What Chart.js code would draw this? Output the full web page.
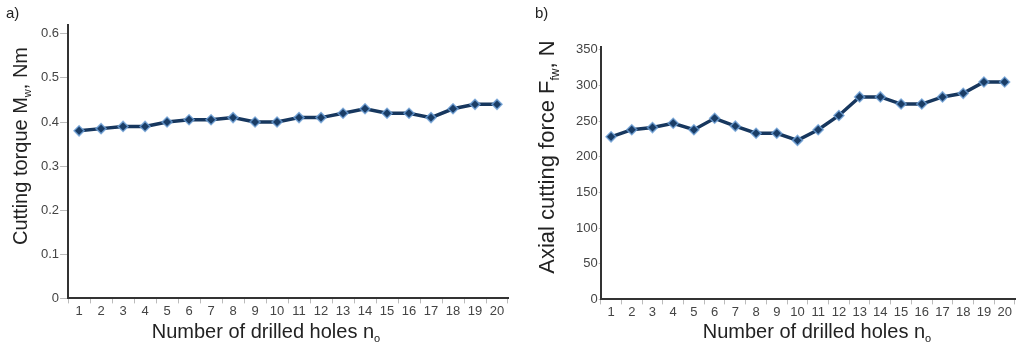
<!DOCTYPE html>
<html>
<head>
<meta charset="utf-8">
<script src="https://cdn.jsdelivr.net/npm/chart.js@4/dist/chart.umd.min.js"></script>
<style>
  body { margin: 0; background: #fff; }
  .wrap { position: absolute; top: 0; height: 344px; }
  #wa { left: 0; width: 515px; }
  #wb { left: 515px; width: 507px; }
</style>
</head>
<body>
<div class="wrap" id="wa"><canvas id="ca"></canvas></div>
<div class="wrap" id="wb"><canvas id="cb"></canvas></div>
<script>
const holes = ['1','2','3','4','5','6','7','8','9','10','11','12','13','14','15','16','17','18','19','20'];
const torque = [0.38, 0.385, 0.39, 0.39, 0.40, 0.405, 0.405, 0.41, 0.40, 0.40,
                0.41, 0.41, 0.42, 0.43, 0.42, 0.42, 0.41, 0.43, 0.44, 0.44];
const force = [228, 238, 241, 247, 238, 254, 243, 233, 233, 223,
               238, 258, 284, 284, 274, 274, 284, 289, 305, 305];
const torqueTicks = [0, 0.1, 0.2, 0.3, 0.4, 0.5, 0.6];
const forceTicks = [0, 50, 100, 150, 200, 250, 300, 350];

const FONT = '"Liberation Sans", Arial, sans-serif';

// draws text with a subscript part: parts = [[text, isSub], ...]
function drawParts(ctx, parts, x, y, size, rotate) {
  ctx.save();
  ctx.translate(x, y);
  if (rotate) ctx.rotate(-Math.PI / 2);
  let total = 0;
  parts.forEach(p => {
    ctx.font = (p[1] ? size * 0.55 : size) + 'px ' + FONT;
    total += ctx.measureText(p[0]).width;
  });
  let cx = -total / 2;
  ctx.fillStyle = '#222';
  ctx.textBaseline = 'middle';
  ctx.textAlign = 'left';
  parts.forEach(p => {
    ctx.font = (p[1] ? size * 0.55 : size) + 'px ' + FONT;
    ctx.fillText(p[0], cx, p[1] ? size * 0.35 : 0);
    cx += ctx.measureText(p[0]).width;
  });
  ctx.restore();
}

const titles = {
  id: 'titles',
  afterDraw(chart, args, o) {
    const ctx = chart.ctx;
    drawParts(ctx, o.x, o.xPos[0], o.xPos[1], 20, false);
    drawParts(ctx, o.y, o.yPos[0], o.yPos[1], o.ySize, true);
    ctx.save();
    ctx.font = '15px ' + FONT;
    ctx.fillStyle = '#222';
    ctx.textBaseline = 'middle';
    ctx.fillText(o.panel, o.panelPos[0], o.panelPos[1]);
    ctx.restore();
  }
};

function makeChart(id, data, ticks, max, pad, tickPad, opts) {
  return new Chart(document.getElementById(id), {
    type: 'line',
    data: {
      labels: holes,
      datasets: [{
        data: data,
        borderColor: '#17375e',
        borderWidth: 3.5,
        pointStyle: 'rectRot',
        pointRadius: 5,
        pointBackgroundColor: '#1a3d66',
        pointBorderColor: 'rgba(110,160,215,0.8)',
        pointBorderWidth: 1.5,
        tension: 0
      }]
    },
    plugins: [titles],
    options: {
      responsive: true,
      maintainAspectRatio: false,
      animation: false,
      layout: { padding: pad },
      plugins: {
        legend: { display: false },
        tooltip: { enabled: false },
        titles: opts
      },
      scales: {
        x: {
          offset: true,
          grid: { display: true, drawOnChartArea: false, offset: true, tickLength: 5, color: '#bbb', tickWidth: 1 },
          border: { color: '#333', width: 2 },
          ticks: { color: '#444', font: { family: FONT, size: 13 }, padding: 0, maxRotation: 0, autoSkip: false }
        },
        y: {
          min: 0,
          max: max,
          afterBuildTicks: s => { s.ticks = ticks.map(v => ({ value: v })); },
          grid: { display: true, drawOnChartArea: false, tickLength: tickPad, color: '#bbb' },
          border: { color: '#333', width: 2 },
          ticks: { color: '#444', font: { family: FONT, size: 13 }, padding: 1 }
        }
      }
    }
  });
}

makeChart('ca', torque, torqueTicks, 0.62, { left: 40, right: 7, top: 25, bottom: 25 }, 8, {
  x: [['Number of drilled holes n', false], ['o', true]],
  y: [['Cutting torque M', false], ['w', true], [', Nm', false]],
  xPos: [266, 332], yPos: [21, 146], ySize: 20, panel: 'a)', panelPos: [6, 14]
});
makeChart('cb', force, forceTicks, 354, { left: 60, right: 7, top: 47, bottom: 24 }, 2, {
  x: [['Number of drilled holes n', false], ['o', true]],
  y: [['Axial cutting force F', false], ['fw', true], [', N', false]],
  xPos: [302, 332], yPos: [33, 157], ySize: 22, panel: 'b)', panelPos: [20, 14]
});
</script>
</body>
</html>
